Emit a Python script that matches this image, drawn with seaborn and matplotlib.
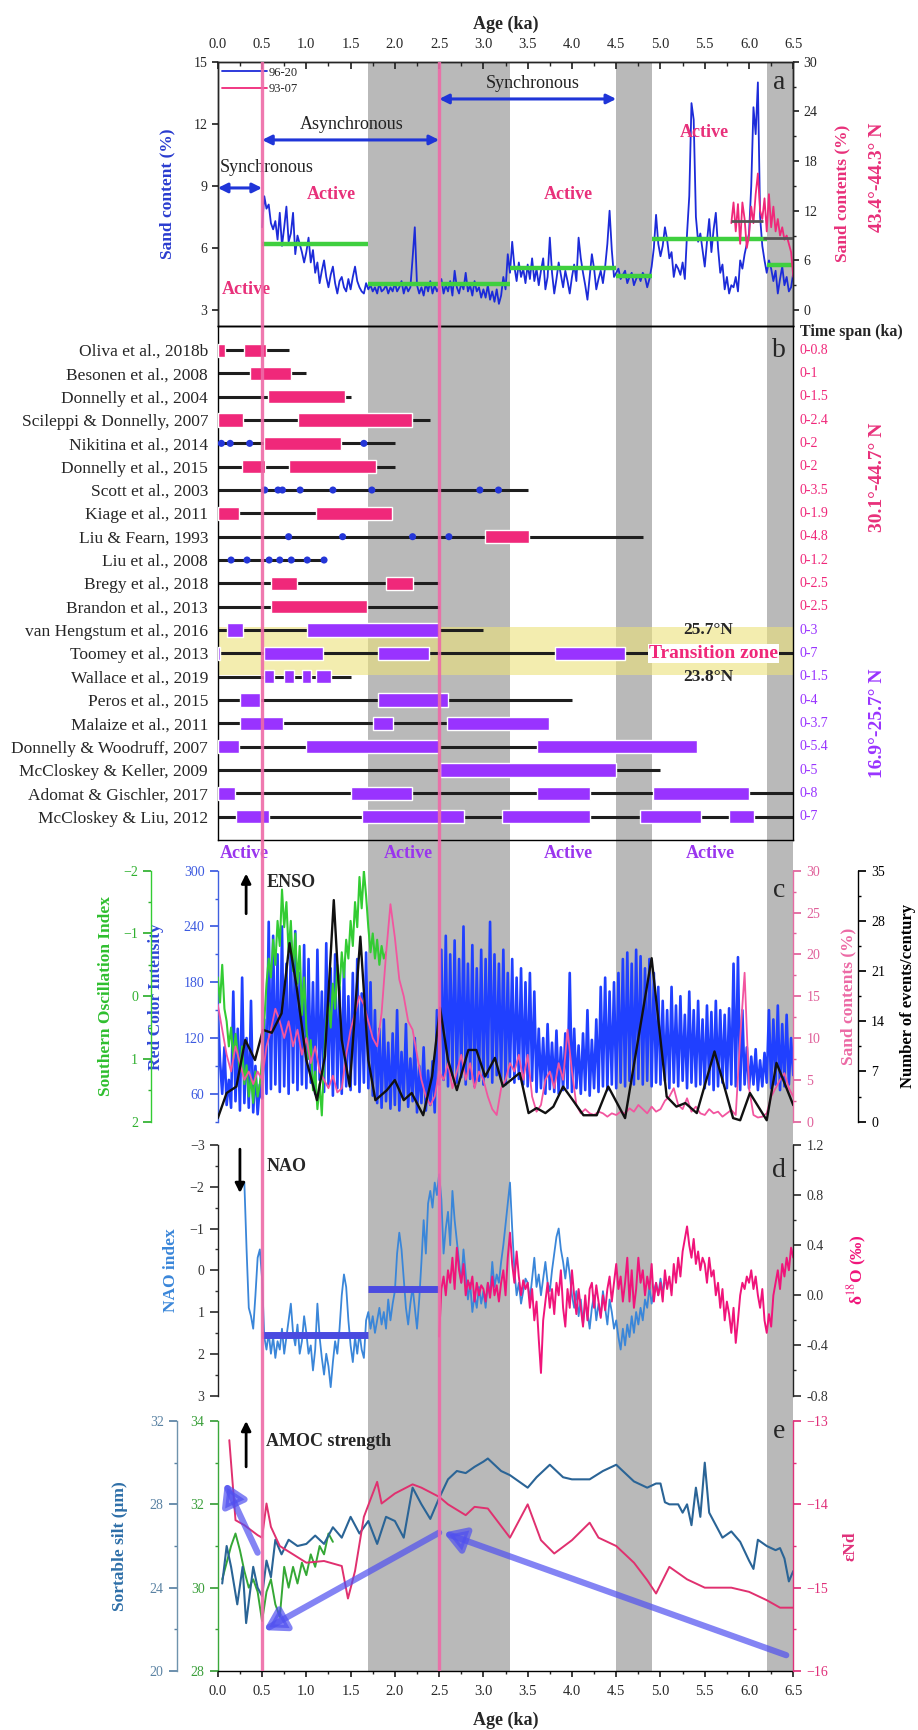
import numpy as np
import matplotlib
matplotlib.use("Agg")
import matplotlib.pyplot as plt
from matplotlib.ticker import MultipleLocator, FormatStrFormatter
import seaborn as sns

# ---------------------------------------------------------------- data
# (a) sand content of core 96-20 (%), every 0.025 ka from 0.5 ka
sand_9620_start = 0.5
sand_9620 = [
    7.0, 8.5, 7.9, 8.1, 7.2, 6.9, 7.3, 6.4, 7.7, 6.1, 7.0, 8.0, 6.3, 6.7, 7.7, 5.7, 6.6, 6.2, 5.8, 5.3,
    5.8, 6.5, 5.3, 5.9, 4.8, 5.3, 4.3, 4.9, 5.4, 4.6, 4.1, 4.7, 5.1, 4.3, 3.8, 4.4, 4.6, 4.1, 3.9, 4.5,
    4.0, 4.6, 5.1, 4.4, 4.1, 3.9, 3.8, 4.3, 4.0, 4.2, 3.9, 4.1, 3.8, 4.3, 3.9, 4.0, 4.2, 3.8, 4.1, 3.9,
    4.3, 3.9, 4.1, 4.4, 3.8, 4.2, 3.9, 4.1, 5.5, 7.0, 4.2, 3.8, 4.1, 3.7, 4.3, 3.9, 4.4, 3.8, 4.2, 3.9,
    4.1, 4.5, 3.8, 4.2, 3.9, 4.4, 3.7, 4.9, 4.1, 3.8, 4.3, 4.0, 4.8, 3.9, 4.2, 3.7, 4.4, 3.9, 4.1, 3.6,
    4.0, 3.6, 4.2, 3.5, 3.9, 3.4, 4.0, 3.3, 3.7, 4.6, 4.0, 5.7, 4.8, 6.3, 5.1, 4.4, 5.3, 4.6, 5.0, 4.3,
    5.2, 4.5, 5.5, 4.4, 5.0, 4.2, 4.9, 5.5, 4.0, 4.6, 6.5, 4.8, 3.8, 4.5, 5.3, 4.7, 4.1, 4.9, 4.4, 3.8,
    4.6, 5.2, 4.4, 6.5, 5.5, 4.8, 4.2, 3.5, 4.6, 5.7, 5.0, 4.0, 4.5, 4.9, 4.3, 5.1, 6.2, 7.8, 5.9, 4.6,
    4.8, 5.0, 4.5, 4.7, 4.9, 4.3, 4.6, 4.8, 4.2, 4.5, 4.7, 4.4, 4.8, 4.6, 4.1, 4.5, 5.1, 6.0, 7.6, 6.2,
    5.6, 6.1, 7.0, 6.4, 5.5, 5.8, 4.6, 5.2, 5.0, 4.7, 5.3, 4.5, 6.7, 8.5, 13.0, 12.2, 7.5, 6.3, 6.7, 5.9,
    5.1, 6.3, 7.4, 5.8, 6.9, 7.7, 6.0, 4.8, 5.2, 4.0, 4.6, 3.8, 4.2, 4.1, 4.6, 3.9, 5.4, 5.0, 5.7, 6.2,
    6.7, 9.0, 12.8, 11.5, 14.0, 7.5, 6.1, 5.4, 4.8, 5.4, 5.0, 4.4, 4.9, 3.8, 4.5, 5.1, 4.2, 4.6, 3.9, 4.1,
    4.8,
]
# (a) sand content of core 93-07 (%), every 0.025 ka from 5.8 ka
sand_9307_start = 5.8
sand_9307 = [10.5, 13.0, 9.5, 12.8, 8.0, 13.0, 11.0, 7.5, 9.0, 12.5, 10.5, 14.0, 16.5, 12.0, 11.0,
             13.5, 9.5, 14.0, 10.0, 12.5, 9.5, 11.0, 9.0, 10.0, 8.5, 9.0, 8.0, 7.0, 4.0]
# mean levels: (start ka, end ka, value)
mean_9620 = [(0.5, 1.7, 6.2), (1.7, 3.3, 4.25), (3.3, 4.5, 5.05),
             (4.5, 4.9, 4.65), (4.9, 6.2, 6.45), (6.2, 6.5, 5.2)]
mean_9307 = [(5.8, 6.16, 10.7), (6.16, 6.5, 8.7)]

# (b) paleo-hurricane records
ref_names = ["Oliva et al., 2018b", "Besonen et al., 2008", "Donnelly et al., 2004",
             "Scileppi & Donnelly, 2007", "Nikitina et al., 2014", "Donnelly et al., 2015",
             "Scott et al., 2003", "Kiage et al., 2011", "Liu & Fearn, 1993", "Liu et al., 2008",
             "Bregy et al., 2018", "Brandon et al., 2013", "van Hengstum et al., 2016",
             "Toomey et al., 2013", "Wallace et al., 2019", "Peros et al., 2015",
             "Malaize et al., 2011", "Donnelly & Woodruff, 2007", "McCloskey & Keller, 2009",
             "Adomat & Gischler, 2017", "McCloskey & Liu, 2012"]
ref_span = [0.8, 1, 1.5, 2.4, 2, 2, 3.5, 1.9, 4.8, 1.2, 2.5, 2.5, 3, 7, 1.5, 4, 3.7, 5.4, 5, 8, 7]
ref_active = [
    [(0, 0.08), (0.3, 0.55)],
    [(0.36, 0.83)],
    [(0.57, 1.44)],
    [(0, 0.28), (0.91, 2.19)],
    [(0.52, 1.39)],
    [(0.27, 0.53), (0.8, 1.79)],
    [],
    [(0, 0.24), (1.11, 1.97)],
    [(3.02, 3.51)],
    [],
    [(0.6, 0.89), (1.9, 2.2)],
    [(0.6, 1.69)],
    [(0.1, 0.28), (1.01, 2.5)],
    [(0, 0.03), (0.52, 1.19), (1.81, 2.39), (3.81, 4.6)],
    [(0.52, 0.63), (0.75, 0.86), (0.95, 1.05), (1.11, 1.28)],
    [(0.25, 0.48), (1.81, 2.6)],
    [(0.25, 0.74), (1.75, 1.98), (2.59, 3.74)],
    [(0, 0.24), (1.0, 2.5), (3.61, 5.41)],
    [(2.51, 4.5)],
    [(0, 0.19), (1.51, 2.19), (3.61, 4.2), (4.91, 6.0)],
    [(0.2, 0.58), (1.63, 2.78), (3.21, 4.2), (4.77, 5.46), (5.77, 6.06)],
]
ref_events = {4: [0.04, 0.14, 0.36, 1.65],
              6: [0.53, 0.68, 0.73, 0.93, 1.30, 1.74, 2.96, 3.17],
              8: [0.8, 1.41, 2.2, 2.61],
              9: [0.15, 0.33, 0.58, 0.70, 0.83, 1.01, 1.2]}
n_north = 12  # first twelve records: 30.1-44.7 N, the rest 16.9-25.7 N

# (c) red colour intensity, every 0.025 ka from 0 ka
rci = [
    150, 95, 60, 110, 48, 75, 45, 170, 52, 130, 42, 185, 50, 120, 45, 160, 40, 90, 38, 70,
    55, 140, 60, 245, 65, 230, 70, 210, 62, 240, 68, 200, 60, 225, 72, 235, 64, 190, 70, 220,
    66, 205, 72, 180, 60, 215, 75, 170, 62, 222, 70, 195, 58, 210, 66, 175, 60, 200, 68, 165,
    64, 190, 70, 205, 62, 168, 72, 212, 66, 180, 58, 150, 50, 130, 45, 140, 52, 115, 44, 125,
    48, 150, 42, 105, 55, 135, 46, 98, 52, 120, 40, 90, 50, 110, 42, 85, 48, 95, 40, 150,
    70, 215, 75, 230, 68, 210, 80, 225, 72, 205, 78, 240, 70, 200, 76, 220, 68, 195, 74, 215,
    70, 205, 78, 245, 72, 210, 80, 200, 75, 215, 70, 190, 78, 205, 72, 185, 76, 195, 70, 180,
    68, 190, 74, 170, 62, 130, 66, 120, 60, 135, 65, 115, 62, 128, 60, 110, 64, 125, 66, 190,
    62, 130, 66, 112, 60, 125, 64, 150, 58, 118, 66, 140, 62, 175, 68, 185, 64, 170, 70, 180,
    66, 190, 72, 205, 68, 212, 74, 200, 70, 215, 76, 208, 70, 195, 74, 205, 68, 190, 72, 175,
    70, 160, 74, 150, 66, 175, 72, 155, 68, 165, 74, 145, 66, 170, 72, 150, 68, 160, 70, 140,
    66, 155, 70, 148, 64, 160, 68, 150, 72, 145, 66, 152, 70, 200, 68, 207, 64, 150, 70, 110,
    66, 100, 70, 108, 64, 96, 68, 104, 72, 150, 66, 140, 70, 155, 64, 135, 68, 145, 70, 120, 80,
]
# (c) Southern Oscillation Index, every 0.025 ka from 0 ka
soi = [
    -0.3, 0.1, -0.5, 0.2, 0.4, 0.8, 0.5, 1.0, 0.6, 0.9, 1.2, 0.8, 1.4, 1.1, 1.6, 1.3, 1.7, 1.2, 1.6, 1.4,
    1.0, 0.4, -0.2, -0.6, -0.3, -0.9, -0.5, -1.2, -0.8, -1.7, -1.1, -1.5, -0.7, -1.2, -0.4, -1.0, -0.2, -0.8, 0.3, -0.3,
    0.5, 1.0, 0.7, 1.5, 1.2, 1.8, 1.4, 1.9, 1.0, 0.4, 0.1, 0.5, -0.2, 0.2, -0.5, -0.1, -0.7, -0.3, -0.9, -0.6,
    -1.2, -0.8, -1.5, -1.1, -1.9, -1.4, -2.0, -1.6, -1.1, -0.7, -1.0, -0.6, -0.9, -0.5, -0.8, -0.6, -0.7,
]
# (c) sand contents (%), every 0.05 ka from 0 ka
sand_c = [
    14, 11, 8, 6, 9, 7, 5, 6, 4.5, 6,
    5, 9, 11, 13.5, 12, 10, 12, 9, 11, 8,
    10, 7, 9, 6, 5, 4, 5.5, 3.5, 4, 8,
    11, 13, 15, 14, 12, 10, 9, 13, 20, 26,
    22, 17, 15, 12, 11, 8, 5, 3, 2, 3,
    6, 5, 7, 4, 6, 8, 5, 7, 4, 6,
    5, 3, 1.5, 0.8, 4, 5, 7, 6, 8, 5,
    8, 3, 1.2, 2, 5, 6, 4, 7, 5, 11,
    6, 2, 1, 1.5, 1, 0.8, 1.2, 1, 0.6, 1,
    0.8, 1.2, 1, 1.6, 1.2, 2, 1.5, 1, 1.8, 1.2,
    1.5, 2.5, 3, 4, 2, 1.5, 2.8, 1.2, 1.8, 1,
    0.8, 1.5, 1, 1.2, 0.6, 1, 1.4, 0.8, 10, 17.8,
    4, 0.8, 0.5, 0.6, 1, 3, 4, 5, 5.8, 4,
    3,
]
# (c) hurricane events per century
event_age = [0.0, 0.1, 0.21, 0.31, 0.42, 0.51, 0.61, 0.72, 0.81, 0.89, 1.0, 1.12, 1.21, 1.31,
             1.4, 1.49, 1.61, 1.7, 1.78, 1.91, 2.0, 2.1, 2.19, 2.32, 2.42, 2.51, 2.6, 2.7, 2.83,
             2.92, 3.02, 3.13, 3.22, 3.41, 3.51, 3.6, 3.7, 3.79, 3.9, 4.01, 4.13, 4.28, 4.41,
             4.6, 4.9, 5.07, 5.18, 5.28, 5.41, 5.61, 5.82, 5.9, 6.01, 6.2, 6.31, 6.5]
event_rate = [0.5, 4.0, 4.9, 11.4, 8.6, 12.8, 12.4, 15.1, 24.9, 18.8, 8.6, 3.0, 9.1, 30.9,
              11.4, 4.9, 25.8, 8.6, 3.0, 4.4, 5.8, 3.0, 4.0, 0.9, 6.3, 15.9, 8.6, 4.4, 10.0,
              10.0, 6.3, 8.9, 4.9, 6.8, 1.2, 1.9, 1.2, 2.1, 4.9, 3.0, 0.9, 0.9, 4.9,
              0.5, 22.8, 3.5, 2.1, 2.6, 1.2, 9.8, 0.5, 0.2, 4.0, 0.2, 8.2, 2.3]

# (d) NAO index, every 0.025 ka from 0.3 ka
nao_start = 0.3
nao = [
    -2.1, -0.5, 0.9, 1.1, 1.4, 0.6, -0.3, -0.5,
    0.2, 1.6, 1.9, 1.5, 2.0, 1.6, 2.1, 1.7, 1.9, 1.4, 2.0, 1.6, 1.2, 0.8, 1.5, 1.8, 1.3, 2.0, 1.7, 1.1,
    1.5, 2.0, 1.8, 2.4, 1.9, 0.8, 1.6, 2.1, 2.5, 2.0, 2.3, 2.8, 2.2, 1.7, 2.0, 1.4, 0.6, 0.1, 0.4, 1.2,
    1.8, 2.2, 1.6, 2.0, 1.5, 1.9, 2.1, 1.2, 1.0, 1.4, 1.1, 1.5, 1.2, 0.9, 1.3, 1.0, 1.4, 0.7, 1.2, 0.8,
    0.5, -0.4, -0.9, -0.5, 0.2, 0.9, 1.3, 0.8, 0.4, 0.9, 1.4, 0.7, -0.2, -1.2, -0.4, -1.6, -1.9, -1.5, -2.1, -1.8,
    -2.3, -1.7, -0.4, -1.0, -1.4, -0.6, -1.9, -1.2, -0.7, -0.2, 0.3, -0.5, 0.1, 0.7, 0.3, 1.0, 0.6, 0.9, 0.4, 0.8,
    0.5, 0.9, 0.3, 0.6, -0.2, 0.4, 0.1, 0.3, -0.2, -0.6, -1.1, -1.6, -2.1, -1.0, 0.0, 0.6, 0.3, 0.8, 0.5, 0.2,
    0.3, 0.7, 0.2, -0.3, 0.4, 0.1, 0.6, 0.2, -0.2, 0.3, 0.5, 0.0, -0.4, -0.8, -1.0, -0.5, -0.2, 0.2, -0.3, 0.1,
    0.6, 0.9, 0.5, 1.1, 0.7, 1.3, 0.8, 1.0, 1.4, 0.9, 0.6, 1.2, 0.8, 1.1, 0.5, 0.9, 1.3, 0.7, 1.0, 1.4,
    1.2, 1.6, 1.9, 1.4, 1.8, 1.3, 1.6, 1.1, 1.5, 1.0, 1.3, 0.9, 1.2, 0.7, 0.9, 0.4, 0.8, 0.5, 0.3, 0.6,
    0.2, 0.5, 0.3,
]
nao_means = [(0.5, 1.7, 1.54), (1.7, 2.5, 0.46)]
# (d) d18O (permil), every 0.025 ka from 2.5 ka
d18o_start = 2.5
d18o = [
    -0.33, 0.05, 0.15, 0.0, 0.2, 0.1, 0.3, 0.05, 0.38, 0.2, 0.1, 0.25, 0.0, 0.12, 0.05, 0.15, -0.05, 0.1, 0.0, 0.08,
    0.05, -0.05, 0.1, -0.02, 0.15, 0.0, 0.08, -0.05, 0.1, 0.2, 0.0, 0.3, 0.5, 0.25, 0.1, 0.35, 0.15, 0.0, 0.12, 0.05,
    0.1, -0.1, 0.05, -0.2, -0.05, -0.35, -0.62, -0.2, -0.05, 0.1, -0.1, 0.05, -0.15, 0.1, 0.0, 0.2, -0.1, -0.25, 0.05, -0.1,
    0.2, 0.0, -0.15, 0.05, -0.1, -0.25, 0.0, -0.2, 0.05, 0.1, -0.1, 0.08, -0.05, -0.18, 0.0, -0.12, 0.05, 0.15, -0.05, 0.1,
    0.25, 0.05, 0.15, -0.05, 0.1, 0.3, -0.05, 0.2, -0.1, 0.05, 0.3, 0.1, 0.2, 0.0, 0.15, 0.05, 0.25, -0.05, 0.1, 0.0,
    0.1, -0.05, 0.2, 0.05, 0.15, 0.0, 0.25, 0.1, 0.3, 0.15, 0.35, 0.45, 0.55, 0.4, 0.3, 0.45, 0.25, 0.35, 0.2, 0.3,
    0.25, 0.1, 0.3, 0.15, 0.2, 0.0, 0.1, -0.1, 0.05, -0.2, -0.05, -0.15, -0.3, -0.1, -0.38, -0.2, 0.0, 0.1, 0.05, 0.15,
    0.1, 0.2, 0.05, 0.15, 0.0, -0.1, 0.05, -0.2, -0.3, -0.15, -0.25, 0.0, 0.1, 0.2, 0.05, 0.25, 0.15, 0.3, 0.2, 0.38,
    0.3,
]

# (e) sortable silt (um), outer axis
silt_age = [0.05, 0.1, 0.15, 0.22, 0.28, 0.32, 0.4, 0.45, 0.5, 0.55, 0.6, 0.65, 0.72, 0.8, 0.9,
            1.0, 1.1, 1.2, 1.3, 1.4, 1.5, 1.6, 1.7, 1.8, 1.9, 2.0, 2.1, 2.2, 2.3, 2.4, 2.5, 2.6,
            2.7, 2.8, 2.9, 3.0, 3.05, 3.2, 3.3, 3.5, 3.6, 3.75, 3.9, 4.0, 4.2, 4.35, 4.5, 4.6,
            4.7, 4.85, 4.95, 5.0, 5.05, 5.1, 5.2, 5.25, 5.3, 5.35, 5.4, 5.45, 5.5, 5.55, 5.6,
            5.7, 5.8, 5.9, 6.0, 6.05, 6.1, 6.2, 6.3, 6.35, 6.4, 6.45, 6.5]
silt_val = [24.2, 26.0, 25.0, 23.2, 25.0, 22.3, 25.0, 24.0, 23.6, 25.3, 24.5, 26.3, 25.6, 26.3,
            26.0, 26.1, 26.5, 26.1, 26.9, 26.4, 27.4, 26.6, 27.2, 26.1, 27.4, 27.2, 26.4, 28.8,
            28.0, 27.3, 28.3, 29.2, 29.6, 29.5, 29.8, 30.05, 30.2, 29.6, 29.4, 28.8, 29.3, 29.9,
            29.3, 29.2, 29.2, 29.6, 29.9, 29.5, 29.1, 28.8, 29.0, 29.0, 28.1, 28.0, 28.0, 27.6,
            28.0, 27.0, 28.8, 27.4, 30.0, 27.6, 27.2, 26.4, 26.7, 26.2, 25.3, 24.9, 26.3, 26.0,
            25.8, 25.9, 25.4, 24.3, 24.8]
# (e) sortable silt (um), inner axis
silt2_age = [0.05, 0.1, 0.15, 0.2, 0.25, 0.3, 0.35, 0.4, 0.45, 0.5, 0.55, 0.6, 0.65, 0.7, 0.75,
             0.8, 0.85, 0.9, 0.95, 1.0, 1.05, 1.1, 1.15, 1.2, 1.25, 1.3]
silt2_val = [30.2, 30.6, 31.0, 31.3, 30.9, 30.4, 30.0, 30.2, 29.9, 29.2, 29.9, 30.2, 29.6, 29.3,
             30.5, 30.0, 30.5, 30.1, 30.6, 30.3, 30.8, 30.5, 31.0, 30.8, 31.3, 31.1]
# (e) epsilon Nd
end_age = [0.13, 0.2, 0.3, 0.45, 0.5, 0.55, 0.6, 0.7, 0.85, 1.0, 1.2, 1.4, 1.47, 1.55, 1.65,
           1.8, 1.85, 2.0, 2.2, 2.3, 2.5, 2.6, 2.8, 2.9, 3.05, 3.3, 3.5, 3.65, 3.8, 4.0, 4.2,
           4.3, 4.5, 4.7, 4.85, 4.95, 5.1, 5.3, 5.5, 5.8, 6.0, 6.2, 6.35, 6.5]
end_val = [-13.23, -14.19, -14.25, -14.37, -14.4, -13.99, -14.27, -14.5, -14.6, -14.7, -14.68,
           -14.74, -15.13, -14.8, -14.15, -13.73, -13.99, -13.87, -13.76, -13.8, -13.91, -14.0,
           -14.13, -14.03, -14.05, -14.4, -14.0, -14.43, -14.59, -14.43, -14.22, -14.4, -14.5,
           -14.7, -14.91, -15.07, -14.75, -14.9, -15.0, -15.0, -15.05, -15.15, -15.24, -15.24]

# shaded intervals (ka) and boundaries
gray_bands = [(1.7, 3.3), (4.5, 4.9), (6.2, 6.5)]
boundaries = [0.5, 2.5]


def grid(start, values, step=0.025):
    return start + step * np.arange(len(values))


# ---------------------------------------------------------------- style
sns.set_theme(style="white")
plt.rcParams["font.family"] = ["Liberation Serif", "DejaVu Serif"]
plt.rcParams["mathtext.fontset"] = "stix"
plt.rcParams["axes.linewidth"] = 1.0

BLUE_A = "#1c2bd9"
PINK = "#f0287a"
PINK_TXT = "#e8307a"
PURPLE = "#9933ff"
GREEN = "#33cc33"
BLUE_C = "#2040ff"
NAO_BLUE = "#3a86d9"
STEEL = "#2e6fa8"
GRAY = "#b9b9b9"
VLINE = "#ee6aa7"

TICK = 10
LAB = 12.5


def line(ax, x, y, color, lw):
    sns.lineplot(x=np.asarray(x, float), y=np.asarray(y, float), ax=ax, color=color,
                 linewidth=lw, estimator=None, sort=False, legend=False)


fig = plt.figure(figsize=(9.18, 17.30), dpi=100)
L, W = 0.23725, 0.62691
XLIM = (0, 6.5)

# background shading
ax_bg = fig.add_axes([L, 0.03410, W, 0.93024], zorder=-1)
ax_bg.set_xlim(*XLIM)
ax_bg.set_ylim(0, 1)
for s, e in gray_bands:
    ax_bg.axvspan(s, e, color=GRAY, lw=0)
ax_bg.axis("off")


def clean(ax):
    ax.set_facecolor("none")
    ax.set_xlim(*XLIM)
    ax.set_xlabel("")
    ax.set_ylabel("")


# ---------------------------------------------------------------- panel a
ax_a = fig.add_axes([L, 0.81156, W, 0.15277])
line(ax_a, grid(sand_9620_start, sand_9620), sand_9620, BLUE_A, 1.3)
for s, e, v in mean_9620:
    ax_a.hlines(v, s, e, color="#3fcf3f", lw=3.2, zorder=3)
ax_a2 = ax_a.twinx()
line(ax_a2, grid(sand_9307_start, sand_9307), sand_9307, PINK, 1.3)
for s, e, v in mean_9307:
    ax_a2.hlines(v, s, e, color="#555555", lw=2.0)
clean(ax_a); clean(ax_a2)
ax_a.set_ylim(2.23, 15)
ax_a2.set_ylim((2.23 - 3) * 2.5, 30)
ax_a.xaxis.tick_top()
ax_a.xaxis.set_label_position("top")
ax_a.xaxis.set_major_locator(MultipleLocator(0.5))
ax_a.xaxis.set_minor_locator(MultipleLocator(0.25))
ax_a.xaxis.set_major_formatter(FormatStrFormatter("%.1f"))
ax_a.tick_params(axis="x", which="both", top=True, bottom=False, direction="in",
                 labelsize=TICK + 0.5, pad=8)
ax_a.tick_params(axis="x", which="major", length=5)
ax_a.tick_params(axis="x", which="minor", length=3)
ax_a.set_xlabel("Age (ka)", fontsize=13, fontweight="bold", labelpad=6)
ax_a.set_yticks([3, 6, 9, 12, 15])
ax_a.tick_params(axis="y", left=True, direction="out", length=4, labelsize=TICK)
ax_a2.set_yticks([0, 6, 12, 18, 24, 30])
ax_a2.yaxis.set_minor_locator(MultipleLocator(3))
ax_a2.tick_params(axis="y", which="both", right=True, direction="out", labelsize=TICK)
ax_a2.tick_params(axis="y", which="major", length=4)
ax_a2.tick_params(axis="y", which="minor", length=2.5)
ax_a.set_ylabel("Sand content (%)", color="#2a3ccf", fontsize=LAB, fontweight="bold")
ax_a.yaxis.set_label_coords(-0.073, 0.5)
ax_a2.set_ylabel("Sand contents (%)", color=PINK_TXT, fontsize=LAB, fontweight="bold")
ax_a2.yaxis.set_label_coords(1.071, 0.5)
for sp in ax_a.spines.values():
    sp.set_color("black")
ax_a.text(1.147, 0.564, "43.4°-44.3° N", transform=ax_a.transAxes, rotation=90,
          ha="center", va="center", color=PINK_TXT, fontsize=14, fontweight="bold")
ax_a.legend([ax_a.lines[0], ax_a2.lines[0]], ["96-20", "93-07"], loc="upper left",
            bbox_to_anchor=(-0.005, 1.01), frameon=False, fontsize=9, handlelength=3.6,
            handletextpad=0.1, labelspacing=0.35, borderaxespad=0.2)

arrow_kw = dict(arrowstyle="<|-|>", color="#1f35d8", lw=2.2, mutation_scale=14,
                shrinkA=0, shrinkB=0)
ax_a.annotate("", xy=(0.0, 8.9), xytext=(0.5, 8.9), arrowprops=arrow_kw)
ax_a.annotate("", xy=(0.5, 11.22), xytext=(2.5, 11.22), arrowprops=arrow_kw)
ax_a.annotate("", xy=(2.5, 13.2), xytext=(4.5, 13.2), arrowprops=arrow_kw)
ax_a.text(0.02, 9.9, "Synchronous", fontsize=13, ha="left", va="center", color="#222222")
ax_a.text(1.51, 11.95, "Asynchronous", fontsize=13, ha="center", va="center", color="#222222")
ax_a.text(3.56, 13.97, "Synchronous", fontsize=13, ha="center", va="center", color="#222222")
for x, y in [(1.28, 8.6), (3.96, 8.6), (5.5, 11.6), (0.32, 3.97)]:
    ax_a.text(x, y, "Active", fontsize=13, fontweight="bold", color=PINK_TXT,
              ha="center", va="center")
ax_a.text(6.34, 14.0, "a", fontsize=20, ha="center", va="center")

# ---------------------------------------------------------------- panel b
ax_b = fig.add_axes([L, 0.51445, W, 0.29711])
clean(ax_b)
rows = np.arange(len(ref_names))
ax_b.axhspan(11.87, 13.93, color="#ece27a", alpha=0.6, lw=0, zorder=0)
ax_b.hlines(rows, 0, ref_span, color="#1e1e1e", lw=2.2, zorder=2)
for i, spans in enumerate(ref_active):
    c = PINK if i < n_north else PURPLE
    for s, e in spans:
        ax_b.barh(i, e - s, left=s, height=0.56, color=c, zorder=3)
ev_x = [x for i in ref_events for x in ref_events[i]]
ev_y = [i for i in ref_events for _ in ref_events[i]]
sns.scatterplot(x=ev_x, y=ev_y, ax=ax_b, color="#2436d8", s=26, marker="o",
                edgecolor="none", zorder=4, legend=False)
ax_b.set_xlim(*XLIM)
ax_b.set_ylim(21.0, -1.03)
ax_b.set_xticks([])
ax_b.set_yticks(rows)
ax_b.set_yticklabels(ref_names, fontsize=12.5)
ax_b.tick_params(axis="y", length=0, pad=7)
ax_b.set_xlabel(""); ax_b.set_ylabel("")
for sp in ax_b.spines.values():
    sp.set_color("black")
ytr = ax_b.get_yaxis_transform()
for i, span in enumerate(ref_span):
    ax_b.text(1.011, i, f"0-{span:g}", transform=ytr, ha="left", va="center",
              fontsize=10, color=PINK if i < n_north else PURPLE)
ax_b.text(1.011, 0.988, "Time span (ka)", transform=ax_b.transAxes, ha="left",
          va="center", fontsize=11.5, fontweight="bold")
ax_b.text(1.147, 5.44, "30.1°-44.7° N", transform=ytr, rotation=90, ha="center",
          va="center", fontsize=14, fontweight="bold", color=PINK_TXT)
ax_b.text(1.147, 16.0, "16.9°-25.7° N", transform=ytr, rotation=90, ha="center",
          va="center", fontsize=14, fontweight="bold", color=PURPLE)
ax_b.text(5.54, 12, "25.7°N", ha="center", va="center", fontsize=12.5, fontweight="bold")
ax_b.text(5.54, 14, "23.8°N", ha="center", va="center", fontsize=12.5, fontweight="bold")
ax_b.text(5.6, 13, "Transition zone", ha="center", va="center", fontsize=14,
          fontweight="bold", color=PINK, zorder=5,
          bbox=dict(facecolor="white", edgecolor="none", pad=0.5))
ax_b.text(6.34, 0, "b", fontsize=20, ha="center", va="center")

# ---------------------------------------------------------------- panel c
ax_c = fig.add_axes([L, 0.35162, W, 0.14509])
line(ax_c, grid(0.0, rci), rci, BLUE_C, 1.9)
ax_cg = ax_c.twinx()
line(ax_cg, grid(0.0, soi), soi, GREEN, 1.5)
ax_cs = ax_c.twinx()
line(ax_cs, grid(0.0, sand_c, 0.05), sand_c, "#f2559f", 1.3)
ax_ce = ax_c.twinx()
line(ax_ce, event_age, event_rate, "#111111", 1.7)
for ax in (ax_c, ax_cg, ax_cs, ax_ce):
    clean(ax)
    for k in ("top", "bottom"):
        ax.spines[k].set_visible(False)
    ax.set_xticks([])
ax_c.set_ylim(30, 300)
ax_c.set_yticks([60, 120, 180, 240, 300])
ax_c.yaxis.set_minor_locator(MultipleLocator(30))
ax_c.spines["right"].set_visible(False)
ax_c.spines["left"].set_color("#4060e0")
ax_c.tick_params(axis="y", which="both", left=True, direction="out", colors="#3c5ae0",
                 labelsize=TICK)
ax_c.tick_params(axis="y", which="minor", length=2.5)
ax_c.set_ylabel("Red Color Intensity", color="#2f48d8", fontsize=LAB, fontweight="bold")
ax_c.yaxis.set_label_coords(-0.0935, 0.5)

ax_cg.set_ylim(2, -2)
ax_cg.yaxis.tick_left()
ax_cg.yaxis.set_label_position("left")
ax_cg.spines["left"].set_visible(True)
ax_cg.spines["left"].set_position(("outward", 48))
ax_cg.spines["left"].set_color(GREEN)
ax_cg.spines["right"].set_visible(False)
ax_cg.set_yticks([-2, -1, 0, 1, 2])
ax_cg.yaxis.set_minor_locator(MultipleLocator(0.5))
ax_cg.tick_params(axis="y", which="both", left=True, right=False, direction="out",
                  colors="#2fb02f", labelsize=TICK)
ax_cg.tick_params(axis="y", which="minor", length=2.5)
ax_cg.set_ylabel("Southern Oscillation Index", color="#2fbf2f", fontsize=LAB,
                 fontweight="bold")
ax_cg.yaxis.set_label_coords(-0.180, 0.5)

ax_cs.set_ylim(0, 30)
ax_cs.set_yticks([0, 5, 10, 15, 20, 25, 30])
ax_cs.yaxis.set_minor_locator(MultipleLocator(2.5))
ax_cs.spines["left"].set_visible(False)
ax_cs.spines["right"].set_color("#e66aa3")
ax_cs.tick_params(axis="y", which="both", right=True, direction="out", colors="#e0609a",
                  labelsize=TICK)
ax_cs.tick_params(axis="y", which="minor", length=2.5)
ax_cs.set_ylabel("Sand contents (%)", color="#ec6aa5", fontsize=LAB, fontweight="bold")
ax_cs.yaxis.set_label_coords(1.081, 0.5)

ax_ce.set_ylim(0, 35)
ax_ce.set_yticks([0, 7, 14, 21, 28, 35])
ax_ce.yaxis.set_minor_locator(MultipleLocator(3.5))
ax_ce.spines["left"].set_visible(False)
ax_ce.spines["right"].set_position(("outward", 46.5))
ax_ce.spines["right"].set_color("black")
ax_ce.tick_params(axis="y", which="both", right=True, direction="out", colors="black",
                  labelsize=TICK)
ax_ce.tick_params(axis="y", which="minor", length=2.5)
ax_ce.set_ylabel("Number of events/century", color="black", fontsize=12,
                 fontweight="bold")
ax_ce.yaxis.set_label_coords(1.186, 0.5)

xtr_c = ax_c.get_xaxis_transform()
for x in (0.3, 2.15, 3.96, 5.56):
    ax_c.text(x, 1.07, "Active", transform=xtr_c, ha="center", va="center",
              fontsize=13, fontweight="bold", color="#9a35ee")
ax_ce.annotate("", xy=(0.32, 34.6), xytext=(0.32, 29.0),
               arrowprops=dict(arrowstyle="-|>", color="black", lw=2.0, mutation_scale=14,
                               shrinkA=0, shrinkB=0))
ax_ce.text(0.55, 33.3, "ENSO", fontsize=13, fontweight="bold", ha="left", va="center")
ax_ce.text(6.34, 32.3, "c", fontsize=20, ha="center", va="center")

# ---------------------------------------------------------------- panel d
ax_d = fig.add_axes([L, 0.19335, W, 0.14480])
line(ax_d, grid(nao_start, nao), nao, NAO_BLUE, 1.3)
for s, e, v in nao_means:
    ax_d.hlines(v, s, e, color="#4a4ae0", lw=5, zorder=3)
ax_d2 = ax_d.twinx()
line(ax_d2, grid(d18o_start, d18o), d18o, "#f0147a", 1.4)
for ax in (ax_d, ax_d2):
    clean(ax)
    for k in ("top", "bottom"):
        ax.spines[k].set_visible(False)
    ax.set_xticks([])
ax_d.set_ylim(3, -3)
ax_d.set_yticks([-3, -2, -1, 0, 1, 2, 3])
ax_d.yaxis.set_minor_locator(MultipleLocator(0.5))
ax_d.spines["right"].set_visible(False)
ax_d.spines["left"].set_color("#222222")
ax_d.tick_params(axis="y", which="both", left=True, direction="out", colors="#333333",
                 labelsize=TICK)
ax_d.tick_params(axis="y", which="minor", length=2.5)
ax_d.set_ylabel("NAO index", color=NAO_BLUE, fontsize=LAB, fontweight="bold")
ax_d.yaxis.set_label_coords(-0.068, 0.5)
ax_d2.set_ylim(-0.8, 1.2)
ax_d2.set_yticks([-0.8, -0.4, 0.0, 0.4, 0.8, 1.2])
ax_d2.yaxis.set_major_formatter(FormatStrFormatter("%.1f"))
ax_d2.yaxis.set_minor_locator(MultipleLocator(0.2))
ax_d2.spines["left"].set_visible(False)
ax_d2.spines["right"].set_color("#222222")
ax_d2.tick_params(axis="y", which="both", right=True, direction="out", colors="#333333",
                  labelsize=TICK)
ax_d2.tick_params(axis="y", which="minor", length=2.5)
ax_d2.set_ylabel("δ$^{18}$O (‰)", color="#f0147a", fontsize=LAB, fontweight="bold")
ax_d2.yaxis.set_label_coords(1.091, 0.5)
ax_d.annotate("", xy=(0.25, -1.85), xytext=(0.25, -2.9),
              arrowprops=dict(arrowstyle="-|>", color="black", lw=2.0, mutation_scale=14,
                              shrinkA=0, shrinkB=0))
ax_d.text(0.55, -2.48, "NAO", fontsize=13, fontweight="bold", ha="left", va="center")
ax_d.text(6.34, -2.4, "d", fontsize=20, ha="center", va="center")

# ---------------------------------------------------------------- panel e
ax_e = fig.add_axes([L, 0.03410, W, 0.14451])
line(ax_e, silt2_age, silt2_val, "#35a835", 1.4)
ax_es = ax_e.twinx()
line(ax_es, silt_age, silt_val, "#2a6496", 1.5)
ax_en = ax_e.twinx()
line(ax_en, end_age, end_val, "#e0306f", 1.4)
for ax in (ax_e, ax_es, ax_en):
    clean(ax)
    ax.spines["top"].set_visible(False)
ax_e.set_ylim(28, 34)
ax_e.set_yticks([28, 30, 32, 34])
ax_e.yaxis.set_minor_locator(MultipleLocator(1))
ax_e.spines["right"].set_visible(False)
ax_e.spines["left"].set_color("#3aa83a")
ax_e.spines["bottom"].set_color("black")
ax_e.tick_params(axis="y", which="both", left=True, direction="out", colors="#3a9f3a",
                 labelsize=TICK)
ax_e.tick_params(axis="y", which="minor", length=2.5)
ax_e.xaxis.set_major_locator(MultipleLocator(0.5))
ax_e.xaxis.set_minor_locator(MultipleLocator(0.25))
ax_e.xaxis.set_major_formatter(FormatStrFormatter("%.1f"))
ax_e.tick_params(axis="x", which="both", bottom=True, direction="out", labelsize=TICK + 0.5,
                 pad=6)
ax_e.tick_params(axis="x", which="major", length=4)
ax_e.tick_params(axis="x", which="minor", length=2.5)
ax_e.set_xlabel("Age (ka)", fontsize=13, fontweight="bold", labelpad=10)

ax_es.set_ylim(20, 32)
ax_es.set_yticks([20, 24, 28, 32])
ax_es.yaxis.set_minor_locator(MultipleLocator(2))
ax_es.yaxis.tick_left()
ax_es.yaxis.set_label_position("left")
ax_es.spines["left"].set_visible(True)
ax_es.spines["left"].set_position(("outward", 29.5))
ax_es.spines["left"].set_color("#6f93ad")
ax_es.spines["right"].set_visible(False)
ax_es.spines["bottom"].set_visible(False)
ax_es.tick_params(axis="y", which="both", left=True, right=False, direction="out",
                  colors="#5a82a3", labelsize=TICK)
ax_es.tick_params(axis="y", which="minor", length=2.5)
ax_es.set_ylabel("Sortable silt (μm)", color=STEEL, fontsize=LAB, fontweight="bold")
ax_es.yaxis.set_label_coords(-0.156, 0.5)

ax_en.set_ylim(-16, -13)
ax_en.set_yticks([-16, -15, -14, -13])
ax_en.yaxis.set_minor_locator(MultipleLocator(0.5))
ax_en.spines["left"].set_visible(False)
ax_en.spines["bottom"].set_visible(False)
ax_en.spines["right"].set_color("#e0307a")
ax_en.tick_params(axis="y", which="both", right=True, direction="out", colors="#e0307a",
                  labelsize=TICK)
ax_en.tick_params(axis="y", which="minor", length=2.5)
ax_en.set_ylabel("εNd", color="#e0307a", fontsize=LAB, fontweight="bold")
ax_en.yaxis.set_label_coords(1.086, 0.5)

big_arrow = dict(arrowstyle="-|>,head_length=0.9,head_width=0.55", color="#5050f0",
                 lw=4.5, alpha=0.7, mutation_scale=14, shrinkA=0, shrinkB=0)
ax_en.annotate("", xy=(0.52, -15.51), xytext=(2.5, -14.34), arrowprops=big_arrow)
ax_en.annotate("", xy=(2.55, -14.34), xytext=(6.42, -15.81), arrowprops=big_arrow)
ax_en.annotate("", xy=(0.08, -13.74), xytext=(0.45, -14.58), arrowprops=big_arrow)
ax_en.annotate("", xy=(0.32, -13.0), xytext=(0.32, -13.55),
               arrowprops=dict(arrowstyle="-|>", color="black", lw=2.0, mutation_scale=14,
                               shrinkA=0, shrinkB=0))
ax_en.text(0.55, -13.25, "AMOC strength", fontsize=13, fontweight="bold", ha="left",
           va="center")
ax_en.text(6.34, -13.13, "e", fontsize=20, ha="center", va="center")

# ---------------------------------------------------------------- boundaries on top
ax_ov = fig.add_axes([L, 0.03410, W, 0.93024], zorder=10)
ax_ov.set_xlim(*XLIM)
ax_ov.set_ylim(0, 1)
for b in boundaries:
    ax_ov.axvline(b, color=VLINE, lw=2.4, alpha=0.9)
ax_ov.axis("off")

fig.savefig("out.png", dpi=100)
